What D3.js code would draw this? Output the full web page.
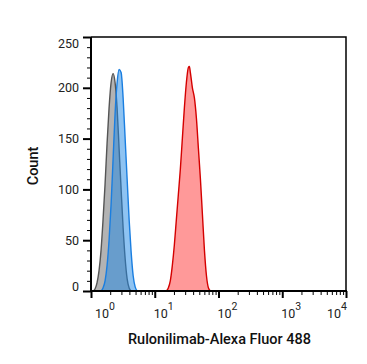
<!DOCTYPE html>
<html><head><meta charset="utf-8">
<script src="https://cdn.jsdelivr.net/npm/d3@7"></script>
<style>
body{margin:0;background:#fff;}
svg{display:block;font-family:Roboto,"Noto Sans",sans-serif;}
</style></head>
<body><svg id="c" width="367" height="364"></svg>
<script>
// Fluorescence intensity (linear units) and counts
const grayX  = [1.075,1.156,1.243,1.337,1.437,1.545,1.662,1.786,1.920,2.065,2.221,2.388,2.567,2.760,2.968,3.191,3.431,3.689,3.966,4.265];
const grayY  = [0,2,8,20,40,70,105,145,180,205,214,205,180,140,100,62,32,12,3,0];
const blueX  = [1.437,1.545,1.662,1.786,1.920,2.065,2.221,2.388,2.567,2.760,2.968,3.191,3.431,3.689,3.966,4.265,4.585,4.93,5.30];
const blueY  = [0,3,10,25,50,85,130,175,205,218,215,190,150,110,70,38,15,4,0];
const redX   = [15.18,16.32,17.54,18.86,20.28,21.81,23.45,25.21,27.10,29.14,31.33,33.69,34.93,36.22,38.95,41.88,45.03,48.42,52.06,55.98,60.19,64.72,69.59,74.82];
const redY   = [0,3,10,25,45,70,95,120,150,180,205,220,221,215,200,190,170,140,110,75,40,15,3,0];
const xDecades = [1,10,100,1000,10000];
const xDecadeExp = ["0","1","2","3","4"];
const yTicks = [0,50,100,150,200,250];
const xTitle = "Rulonilimab-Alexa Fluor 488";
const yTitle = "Count";

const L=91,R=346,T=37,B=291;
const svg=d3.select("#c");
const x=d3.scaleLog().domain([1,10000]).range([L,R]);
const y=d3.scaleLinear().domain([0,250]).range([B,T]);

const series=[
  {xs:grayX,ys:grayY,fill:"#808080",fo:0.6,stroke:"#555555"},
  {xs:blueX,ys:blueY,fill:"#1e88e5",fo:0.5,stroke:"#1a7ee0"},
  {xs:redX,ys:redY,fill:"#ff0000",fo:0.4,stroke:"#d40000"}
];
const area=d3.area().x(d=>x(d[0])).y0(y(0)).y1(d=>y(d[1])).curve(d3.curveMonotoneX);
const line=d3.line().x(d=>x(d[0])).y(d=>y(d[1])).curve(d3.curveMonotoneX);
series.forEach(s=>{
  const pts=s.xs.map((v,i)=>[v,s.ys[i]]);
  svg.append("path").attr("d",area(pts)).attr("fill",s.fill).attr("fill-opacity",s.fo);
  svg.append("path").attr("d",line(pts)).attr("fill","none").attr("stroke",s.stroke).attr("stroke-width",1.4);
});

// frame top/right
svg.append("path").attr("d",`M${L},${T}H${R}V${B}`).attr("fill","none").attr("stroke","#000").attr("stroke-width",1.5);

// y axis ticks
const yMinor=d3.range(0,251,10).filter(v=>v%50!==0);
const ya=svg.append("g").attr("transform",`translate(${L},0)`);
ya.call(d3.axisLeft(y).tickValues(yMinor).tickSize(4).tickFormat("")).call(g=>g.select(".domain").remove());
ya.selectAll(".tick line").attr("stroke-width",1);
const yb=svg.append("g").attr("transform",`translate(${L},0)`);
yb.call(d3.axisLeft(y).tickValues(yTicks).tickSize(8).tickPadding(4).tickFormat(d3.format("d")));
yb.select(".domain").attr("stroke-width",2).attr("d",`M0,${B+1}V${T}`);
yb.selectAll(".tick line").attr("stroke-width",2);
yb.selectAll(".tick text").attr("font-size","12.5px").attr("fill","#222")
  .attr("font-family","Roboto,sans-serif")
  .attr("dy",d=>d===0?"-0.02em":d===250?"0.82em":"0.32em");

// x axis ticks
const xMinor=[];
xDecades.slice(0,-1).forEach(d=>{for(let k=2;k<10;k++)xMinor.push(d*k);});
const xa=svg.append("g").attr("transform",`translate(0,${B})`);
xa.call(d3.axisBottom(x).tickValues(xMinor).tickSize(4).tickFormat("")).call(g=>g.select(".domain").remove());
const xb=svg.append("g").attr("transform",`translate(0,${B})`);
xb.call(d3.axisBottom(x).tickValues(xDecades).tickSize(7).tickFormat(""));
xb.select(".domain").attr("stroke-width",2).attr("d",`M${L-1},0H${R+1}`);
xb.selectAll(".tick line").attr("stroke-width",2);

// x decade labels 10^n
const n=xDecades.length;
xDecades.forEach((d,i)=>{
  const px=x(d);
  const t=svg.append("text").attr("y",B+27).attr("font-size","12.5px").attr("fill","#222");
  if(i===n-1){t.attr("x",px+1).attr("text-anchor","end");}
  else{t.attr("x",px+(i===0?4:-1)).attr("text-anchor","start");}
  t.append("tspan").text("10");
  t.append("tspan").attr("dy","-0.75em").attr("font-size","10.5px").text(xDecadeExp[i]);
});

// titles
svg.append("text").attr("x",(L+R)/2+1).attr("y",344).attr("text-anchor","middle")
  .attr("font-size","14.5px").attr("font-weight",500).attr("fill","#111").text(xTitle);
svg.append("text").attr("transform",`translate(38,${(T+B)/2+2}) rotate(-90)`).attr("text-anchor","middle")
  .attr("font-size","14.5px").attr("font-weight",500).attr("fill","#111").text(yTitle);
</script></body></html>
